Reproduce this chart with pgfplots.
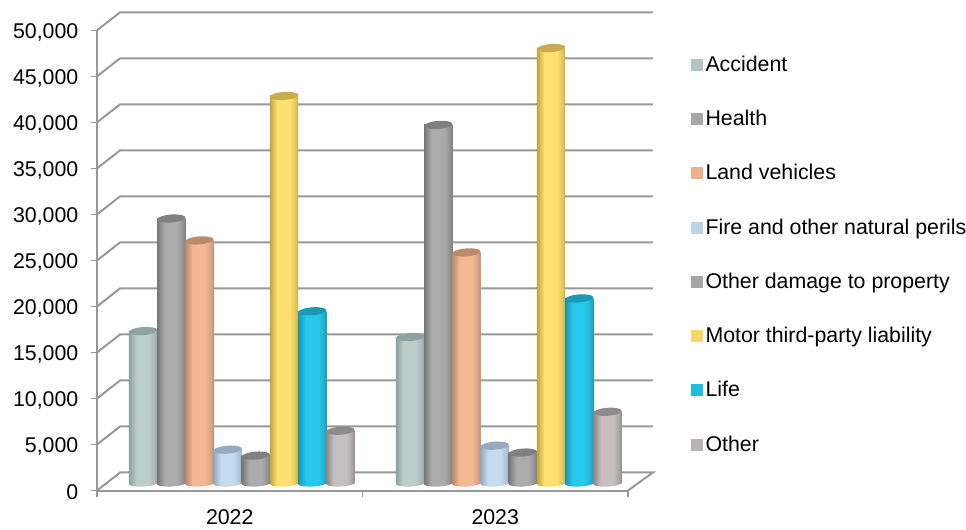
\documentclass[border=0pt]{standalone}
\usepackage{fontspec}
\setmainfont{Liberation Sans}
\usepackage{pgfplots}
\usepackage{pgfplotstable}
\pgfplotsset{compat=1.18}

% Gross premiums by insurance class; columns follow the legend order
\pgfplotstableread{
idx base accident health land fire damage motor life other
0   0    16560    28790  26410 3680 3030  42110 18710 5740
1   0    15910    38960  25110 4110 3360  47310 20110 7790
}\premiums

\definecolor{wallgray}{HTML}{989898}
\newcommand{\labelfont}{\fontsize{16}{19}\selectfont}

% Cylinder look of one series: side shading plus marks for its foot and lid
\newcommand{\defcyl}[5]{%
  \definecolor{#1edge}{HTML}{#2}\definecolor{#1mid}{HTML}{#3}%
  \definecolor{#1lid}{HTML}{#4}\definecolor{#1key}{HTML}{#5}%
  \pgfdeclarehorizontalshading{#1-side}{100bp}{%
    color(0bp)=(#1edge); color(25bp)=(#1edge); color(31bp)=(#1edge!55!#1mid); color(38bp)=(#1mid);
    color(60bp)=(#1mid); color(70bp)=(#1mid!55!#1edge); color(75bp)=(#1edge!85!#1mid); color(100bp)=(#1edge)}%
  \pgfdeclareplotmark{#1-foot}{%
    \pgfpathellipse{\pgfpointorigin}{\pgfqpoint{10.6pt}{0.5pt}}{\pgfqpoint{-0.1pt}{2.3pt}}%
    \pgfshadepath{#1-side}{0}\pgfusepath{discard}}%
  \pgfdeclareplotmark{#1-lid}{%
    \pgfsetfillcolor{#1lid}%
    \pgfpathellipse{\pgfpointorigin}{\pgfqpoint{10.6pt}{0.8pt}}{\pgfqpoint{-0.2pt}{3pt}}%
    \pgfusepath{fill}}%
}
\defcyl{accident}{8EA09F}{BCCDCA}{8EA2A2}{B4C4C2}
\defcyl{health}{777777}{ABABAB}{808080}{A6A6A6}
\defcyl{land}{B98A6E}{F5B895}{B98A6C}{EDB08F}
\defcyl{fire}{93A9BD}{C5DCF0}{93AABF}{BDD3E8}
\defcyl{damage}{777777}{ABABAB}{808080}{A6A6A6}
\defcyl{motor}{C0A640}{FFE070}{C8AB4A}{FCD76B}
\defcyl{life}{1A93AE}{28C8EC}{1B9AB6}{1FBDE0}
\defcyl{other}{8B8686}{C5BFBF}{8F8A8A}{B8B3B3}

% One series of cylinders: #1 = column, #2 = slot within the year group.
% Each year gets its own bar plot so that the side shading fits that bar alone.
\newcommand{\cylseries}[2]{%
  \addplot[only marks, mark=#1-foot, forget plot]
    table[x expr=\thisrow{idx}+#2*0.1056, y=base] {\premiums};
  \addplot[ybar, bar width=21.2pt, bar shift=0pt, draw=none, shading=#1-side, forget plot,
      skip coords between index={1}{2}]
    table[x expr=\thisrow{idx}+#2*0.1056, y=#1] {\premiums};
  \addplot[ybar, bar width=21.2pt, bar shift=0pt, draw=none, shading=#1-side, forget plot,
      skip coords between index={0}{1}]
    table[x expr=\thisrow{idx}+#2*0.1056, y=#1] {\premiums};
  \addplot[only marks, mark=#1-lid, forget plot]
    table[x expr=\thisrow{idx}+#2*0.1056, y=#1] {\premiums};
}
\newcommand{\keyentry}[2]{%
  \addlegendimage{legend image code/.code={\fill[#1key] (0pt,-4.1pt) rectangle (8.2pt,4.1pt);}}
  \addlegendentry{#2}
}

\begin{document}
\begin{tikzpicture}
\path[use as bounding box] (-72.75pt,-28.875pt) rectangle (651.75pt,367.875pt);

% Front frame, tick labels and the receding walls
\begin{axis}[
  at={(0pt,0pt)}, anchor=south west,
  scale only axis, width=398.25pt, height=345.15pt,
  clip=false,
  xmin=-0.5, xmax=1.5, ymin=0, ymax=50000,
  axis x line*=bottom, axis y line*=left,
  axis line style={wallgray, line width=1.5pt, -},
  xtick={0,1}, xticklabels={2022,2023},
  minor xtick={-0.5,0.5,1.5},
  ytick={0,5000,...,50000},
  major x tick style={draw=none},
  minor x tick style={wallgray, line width=1.2pt},
  y tick style={wallgray, line width=1.2pt},
  minor tick length=4.5pt, major tick length=4.5pt,
  tick align=outside,
  /pgf/number format/assume math mode=true,
  /pgf/number format/.cd, 1000 sep={,}, /pgfplots/.cd,
  scaled y ticks=false,
  ticklabel style={font=\labelfont, text=black},
  xticklabel style={yshift=-6.5pt},
  yticklabel style={xshift=-6pt, yshift=-1.5pt},
  wall/.style={draw=wallgray, line width=1.5pt, no markers, forget plot},
]
\addplot[wall] coordinates {(-0.5,0)(-0.413,1957)(1.594,1957)(1.5,0)};
\addplot[wall] coordinates {(-0.5,5000)(-0.413,6957)(1.594,6957)};
\addplot[wall] coordinates {(-0.5,10000)(-0.413,11957)(1.594,11957)};
\addplot[wall] coordinates {(-0.5,15000)(-0.413,16957)(1.594,16957)};
\addplot[wall] coordinates {(-0.5,20000)(-0.413,21957)(1.594,21957)};
\addplot[wall] coordinates {(-0.5,25000)(-0.413,26957)(1.594,26957)};
\addplot[wall] coordinates {(-0.5,30000)(-0.413,31957)(1.594,31957)};
\addplot[wall] coordinates {(-0.5,35000)(-0.413,36957)(1.594,36957)};
\addplot[wall] coordinates {(-0.5,40000)(-0.413,41957)(1.594,41957)};
\addplot[wall] coordinates {(-0.5,45000)(-0.413,46957)(1.594,46957)};
\addplot[wall] coordinates {(-0.5,50000)(-0.413,51957)(1.594,51957)};
\end{axis}

% Cylinders, standing on the floor between front edge and back wall
\begin{axis}[
  at={(8.44pt,5.25pt)}, anchor=south west,
  scale only axis, width=400.5pt, height=345.15pt,
  clip=false, hide axis,
  xmin=-0.5, xmax=1.5, ymin=0, ymax=50000,
  legend style={
    at={(1.092,0.4977)}, anchor=west,
    draw=none, fill=none, inner sep=0pt, outer sep=0pt,
    font=\labelfont,
    row sep=23.6pt,
    /tikz/every even column/.append style={column sep=3pt},
    cells={anchor=west},
  },
]
\keyentry{accident}{Accident}
\keyentry{health}{Health}
\keyentry{land}{Land vehicles}
\keyentry{fire}{Fire and other natural perils}
\keyentry{damage}{Other damage to property}
\keyentry{motor}{Motor third-party liability}
\keyentry{life}{Life}
\keyentry{other}{Other}
\cylseries{accident}{-3.5}
\cylseries{health}{-2.5}
\cylseries{land}{-1.5}
\cylseries{fire}{-0.5}
\cylseries{damage}{0.5}
\cylseries{motor}{1.5}
\cylseries{life}{2.5}
\cylseries{other}{3.5}
\end{axis}
\end{tikzpicture}
\end{document}
